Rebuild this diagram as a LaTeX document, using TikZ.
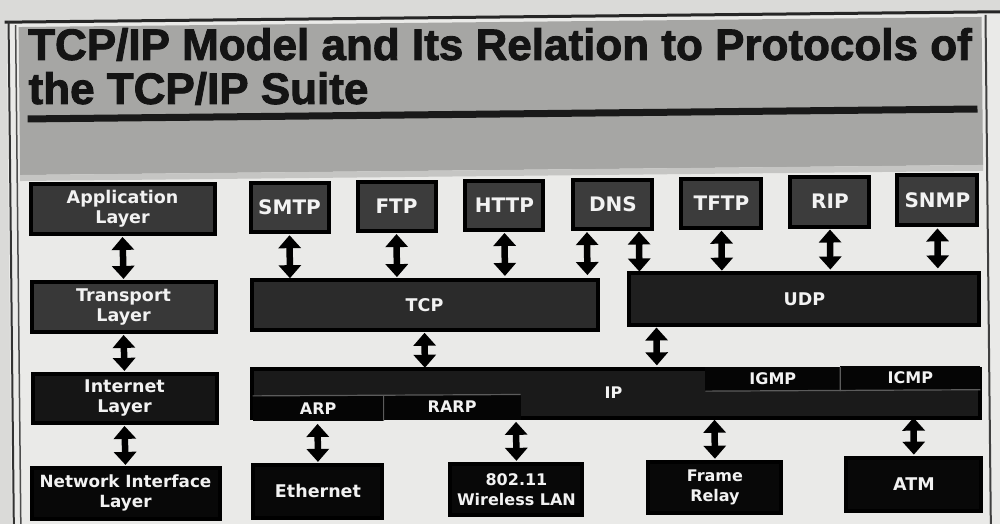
\documentclass[tikz,border=0pt]{standalone}
\usepackage{fontspec}
\newfontfamily\titlefont[BoldFeatures={FakeBold=2}]{Liberation Sans}
\newfontfamily\labelfont{DejaVu Sans}
\usetikzlibrary{arrows.meta,calc}

\definecolor{paper}{HTML}{DADAD8}
\definecolor{slide}{HTML}{EAEAE8}
\definecolor{band}{HTML}{A6A6A4}
\definecolor{protofill}{HTML}{3C3C3C}
\definecolor{appfill}{HTML}{383838}
\definecolor{tcpfill}{HTML}{2B2B2B}
\definecolor{udpfill}{HTML}{1F1F1F}
\definecolor{inetfill}{HTML}{151515}
\definecolor{ipfill}{HTML}{1A1A1A}
\definecolor{cellfill}{HTML}{050505}
\definecolor{linkfill}{HTML}{080808}
\definecolor{seam}{HTML}{5C5C5C}
\definecolor{labeltext}{HTML}{F2F2F2}

% place a box by its visible corners (x1,y1)-(x2,y2)
\newcommand\slidebox[7]{%
  \node[#2, minimum width={#5-#3-4}, minimum height={#6-#4-4}]
    (#1) at ({(#3+#5)/2},{(#4+#6)/2}) {#7};}
% a cell inside the IP bar, no outer border
\newcommand\ipcell[6]{%
  \node[cell, minimum width={#4-#2}, minimum height={#5-#3}]
    (#1) at ({(#2+#4)/2},{(#3+#5)/2}) {#6};}

\tikzset{
  tbox/.style={draw=black, line width=4pt, fill=#1, text=labeltext,
    align=center, inner sep=0pt, outer sep=2pt,
    font=\labelfont\bfseries\fontsize{17.5}{20}\selectfont},
  proto/.style={tbox=protofill, font=\labelfont\bfseries\fontsize{20}{22}\selectfont},
  cell/.style={fill=cellfill, text=labeltext, inner sep=0pt, outer sep=0pt,
    font=\labelfont\bfseries\fontsize{16}{18}\selectfont},
  celltext/.style={text=labeltext, inner sep=0pt,
    font=\labelfont\bfseries\fontsize{16}{18}\selectfont},
  seamline/.style={draw=seam, line width=1.2pt},
  link/.style={line width=6.5pt,
    {Triangle[width=22pt,length=13pt]}-{Triangle[width=22pt,length=13pt]}},
  titletext/.style={anchor=base west, inner sep=0pt, text=black!92,
    font=\titlefont\bfseries\fontsize{44}{48}\selectfont},
}

\begin{document}
\begin{tikzpicture}[x=1pt,y=-1pt]
\useasboundingbox (0,0) rectangle (1000,524);
\fill[paper] (0,0) rectangle (1000,524);

\begin{scope}[rotate around={0.6:(500,350)}]
  % slide surface and frame
  \fill[slide] (10,16) rectangle (1012,540);
  \fill[band] (22,22) rectangle (985,170);
  \fill[band!55!slide] (22,170) rectangle (985,176);
  \draw[black!85, line width=3pt] (8,17) -- (1012,17);
  \draw[black!80, line width=2pt] (12,16) -- (12,540);
  \draw[black!70, line width=1.5pt] (19,20) -- (19,540);
  \draw[black!75, line width=2pt] (989,20) -- (989,540);

  % title
  \node[titletext] (title1) at (31,55) {TCP/IP Model and Its Relation to Protocols of};
  \node[titletext] (title2) at (31,99) {the TCP/IP Suite};
  \draw[black!90, line width=7pt] (30,114) -- (980,114);

  % model layers
  \slidebox{app}{tbox=appfill}{30}{178}{218}{232}{Application\\Layer}
  \slidebox{trans}{tbox=appfill}{30}{276}{218}{330}{Transport\\Layer}
  \slidebox{inet}{tbox=inetfill}{30}{368}{218}{421}{Internet\\Layer}
  \slidebox{netif}{tbox=linkfill, font=\labelfont\bfseries\fontsize{16.8}{20}\selectfont}{28}{462}{220}{517}{Network Interface\\Layer}

  % application protocols
  \slidebox{smtp}{proto}{250}{179}{332}{232}{SMTP}
  \slidebox{ftp}{proto}{357}{179}{439}{232}{FTP}
  \slidebox{http}{proto}{465}{179}{547}{232}{HTTP}
  \slidebox{dns}{proto}{573}{179}{656}{232}{DNS}
  \slidebox{tftp}{proto}{681}{179}{765}{232}{TFTP}
  \slidebox{rip}{proto}{790}{178}{873}{232}{RIP}
  \slidebox{snmp}{proto}{897}{178}{981}{232}{SNMP}

  % transport protocols
  \slidebox{tcp}{tbox=tcpfill}{250}{277}{600}{331}{TCP}
  \slidebox{udp}{tbox=udpfill}{628}{274}{982}{330}{UDP}

  % internet layer bar
  \slidebox{ip}{tbox=ipfill}{250}{368}{982}{421}{}
  \ipcell{arp}{252}{394}{383}{419}{ARP}
  \ipcell{rarp}{383}{394}{520}{419}{RARP}
  \ipcell{igmp}{705}{370}{840}{394}{IGMP}
  \ipcell{icmp}{840}{370}{980}{394}{ICMP}
  \node[celltext] (iplabel) at (613,394) {IP};
  \draw[seamline] (arp.north west) -- (rarp.north east);
  \draw[seamline] (arp.north east) -- (arp.south east);
  \draw[seamline] (igmp.south west) -- (icmp.south east);
  \draw[seamline] (igmp.north east) -- (igmp.south east);

  % network access technologies
  \slidebox{eth}{tbox=linkfill}{250}{461}{383}{518}{Ethernet}
  \slidebox{wlan}{tbox=linkfill, font=\labelfont\bfseries\fontsize{16}{20}\selectfont}{447}{462}{583}{517}{802.11\\Wireless LAN}
  \slidebox{frame}{tbox=linkfill, font=\labelfont\bfseries\fontsize{16}{20}\selectfont}{645}{462}{782}{517}{Frame\\Relay}
  \slidebox{atm}{tbox=linkfill}{843}{460}{982}{517}{ATM}

  % layer stack
  \draw[link] ([yshift=-1pt]app.south) -- ([yshift=1pt]trans.north);
  \draw[link] ([yshift=-1pt]trans.south) -- ([yshift=1pt]inet.north);
  \draw[link] ([yshift=-1pt]inet.south) -- ([yshift=1pt]netif.north);

  % application to transport
  \draw[link] ([yshift=-1pt]smtp.south) -- ([yshift=1pt]smtp.south |- tcp.north);
  \draw[link] ([yshift=-1pt]ftp.south) -- ([yshift=1pt]ftp.south |- tcp.north);
  \draw[link] ([yshift=-1pt]http.south) -- ([yshift=1pt]http.south |- tcp.north);
  \draw[link] ([xshift=-26pt,yshift=-1pt]dns.south) -- ([xshift=-26pt,yshift=1pt]dns.south |- tcp.north);
  \draw[link] ([xshift=26pt,yshift=-1pt]dns.south) -- ([xshift=26pt,yshift=1pt]dns.south |- udp.north);
  \draw[link] ([yshift=-1pt]tftp.south) -- ([yshift=1pt]tftp.south |- udp.north);
  \draw[link] ([yshift=-1pt]rip.south) -- ([yshift=1pt]rip.south |- udp.north);
  \draw[link] ([yshift=-1pt]snmp.south) -- ([yshift=1pt]snmp.south |- udp.north);

  % transport to internet
  \draw[link] ([yshift=-1pt]tcp.south) -- ([yshift=1pt]tcp.south |- ip.north);
  \draw[link] ([xshift=29pt,yshift=-1pt]udp.south west) -- ([xshift=29pt,yshift=1pt]udp.south west |- ip.north);

  % internet to network access
  \draw[link] ([yshift=-1pt]eth.north |- ip.south) -- ([yshift=1pt]eth.north);
  \draw[link] ([yshift=-1pt]wlan.north |- ip.south) -- ([yshift=1pt]wlan.north);
  \draw[link] ([yshift=-1pt]frame.north |- ip.south) -- ([yshift=1pt]frame.north);
  \draw[link] ([yshift=-1pt]atm.north |- ip.south) -- ([yshift=1pt]atm.north);
\end{scope}
\end{tikzpicture}
\end{document}
